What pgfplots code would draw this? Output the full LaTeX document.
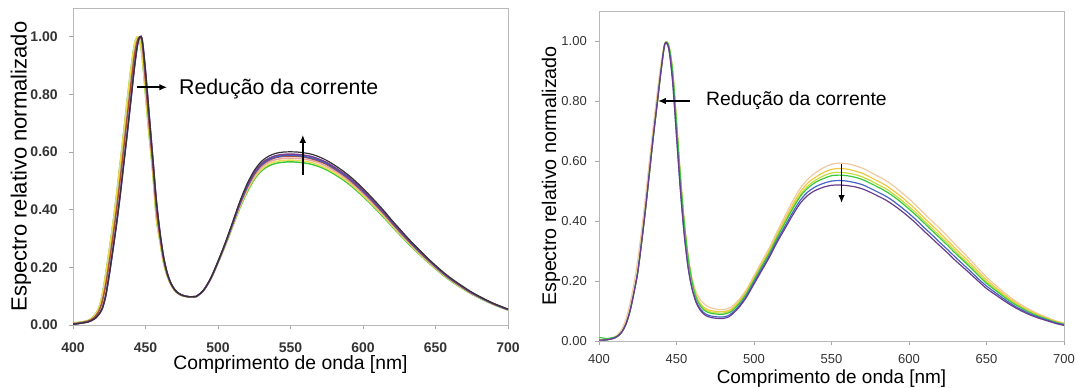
\documentclass[border=0pt]{standalone}
\usepackage{pgfplots}
\pgfplotsset{compat=1.18}
\usepackage{pgfplotstable}
\usepackage{fontspec}
\setmainfont{Liberation Sans}
\usetikzlibrary{arrows.meta}

\definecolor{cK}{HTML}{333333}
\definecolor{cU}{HTML}{7B3F8F}
\definecolor{cB}{HTML}{4060C0}
\definecolor{cR}{HTML}{B0503C}
\definecolor{cP}{HTML}{E8A8A0}
\definecolor{cY}{HTML}{E8DC50}
\definecolor{cG}{HTML}{3CC83C}
\definecolor{rP}{HTML}{F2C8A0}
\definecolor{rY}{HTML}{F0C840}
\definecolor{rL}{HTML}{C8DC3C}
\definecolor{rG}{HTML}{3CC83C}
\definecolor{rB}{HTML}{4664C8}
\definecolor{rU}{HTML}{6A3C8C}

\pgfplotstableread{
x k u b r p y g
400 .003 .003 .003 .006 .006 .008 .008
402.5 .004 .004 .004 .006 .006 .008 .008
405 .006 .006 .006 .008 .008 .010 .010
407.5 .008 .008 .008 .010 .010 .012 .012
410 .010 .010 .010 .013 .013 .015 .015
412.5 .015 .015 .015 .018 .018 .022 .022
415 .022 .022 .022 .028 .028 .035 .035
417.5 .035 .035 .035 .045 .045 .055 .055
420 .055 .055 .055 .078 .078 .100 .100
422.5 .100 .100 .100 .138 .138 .175 .175
425 .175 .175 .175 .218 .218 .260 .260
427.5 .260 .260 .260 .305 .305 .350 .350
430 .350 .350 .350 .400 .400 .450 .450
432.5 .450 .450 .450 .505 .505 .560 .560
435 .560 .560 .560 .615 .615 .670 .670
437.5 .670 .670 .670 .728 .728 .785 .785
440 .785 .785 .785 .838 .838 .890 .890
442.5 .900 .900 .900 .940 .940 .975 .975
445 .985 .985 .985 .995 .995 1.000 1.000
447.5 .995 .995 .995 .985 .985 .940 .940
450 .880 .880 .880 .845 .845 .800 .800
452.5 .730 .730 .730 .695 .695 .660 .660
455 .580 .580 .580 .555 .555 .530 .530
457.5 .430 .430 .430 .400 .400 .370 .370
460 .320 .320 .320 .305 .305 .290 .290
462.5 .235 .235 .235 .225 .225 .215 .215
465 .180 .180 .180 .175 .175 .170 .170
467.5 .145 .145 .145 .143 .143 .140 .140
470 .124 .124 .124 .122 .122 .120 .120
472.5 .111 .111 .111 .110 .110 .109 .109
475 .104 .104 .104 .103 .103 .102 .102
477.5 .100 .100 .100 .100 .100 .099 .099
480 .098 .098 .098 .098 .098 .097 .097
482.5 .098 .098 .098 .098 .098 .097 .097
485 .099 .099 .099 .099 .099 .099 .099
490 .121 .120 .120 .120 .120 .120 .120
495 .163 .162 .161 .161 .160 .160 .160
500 .221 .220 .219 .218 .217 .216 .215
505 .285 .283 .282 .281 .279 .277 .275
510 .356 .352 .350 .349 .346 .343 .340
515 .428 .423 .420 .418 .413 .409 .405
520 .489 .482 .478 .476 .471 .465 .460
525 .536 .529 .525 .523 .517 .510 .505
530 .568 .561 .556 .554 .547 .540 .535
535 .586 .578 .574 .571 .565 .558 .552
540 .596 .588 .583 .581 .574 .567 .561
545 .600 .592 .588 .585 .578 .571 .565
550 .601 .593 .589 .586 .579 .572 .566
555 .600 .592 .588 .585 .578 .571 .565
560 .597 .589 .584 .582 .575 .568 .562
565 .592 .584 .579 .576 .570 .563 .557
570 .583 .575 .571 .568 .562 .554 .549
575 .571 .564 .560 .557 .550 .543 .538
580 .556 .549 .545 .542 .536 .529 .524
585 .539 .532 .528 .526 .520 .513 .508
590 .520 .514 .510 .507 .501 .495 .490
595 .498 .492 .488 .485 .480 .474 .469
600 .474 .467 .464 .462 .456 .450 .446
605 .448 .442 .439 .437 .432 .426 .422
610 .421 .415 .412 .410 .405 .400 .396
615 .393 .388 .385 .383 .379 .374 .370
620 .363 .358 .356 .354 .350 .345 .342
625 .335 .330 .328 .326 .322 .318 .315
630 .307 .303 .301 .299 .296 .292 .289
635 .280 .277 .275 .273 .270 .267 .264
640 .255 .252 .250 .248 .246 .242 .240
645 .230 .227 .226 .225 .222 .219 .217
650 .207 .204 .203 .202 .199 .197 .195
655 .185 .182 .181 .180 .178 .176 .174
660 .165 .162 .161 .160 .159 .157 .155
665 .147 .145 .144 .143 .141 .139 .138
670 .130 .128 .127 .126 .125 .123 .122
675 .114 .112 .111 .111 .109 .108 .107
680 .100 .099 .098 .097 .096 .095 .094
685 .087 .086 .085 .085 .084 .083 .082
690 .075 .074 .074 .073 .073 .072 .071
695 .065 .064 .063 .063 .062 .062 .061
700 .055 .054 .054 .054 .053 .053 .052
}\leftdata

\pgfplotstableread{
x P Y L G B U
400 .005 .003 .003 .012 .003 .003
402.5 .005 .003 .003 .010 .003 .003
405 .006 .004 .004 .008 .004 .004
407.5 .008 .006 .006 .010 .006 .006
410 .013 .010 .010 .013 .010 .010
412.5 .024 .018 .018 .018 .018 .018
415 .042 .032 .032 .032 .032 .032
417.5 .075 .058 .058 .058 .058 .058
420 .125 .100 .100 .100 .100 .100
422.5 .190 .160 .160 .160 .160 .160
425 .270 .230 .230 .230 .230 .230
427.5 .370 .330 .330 .330 .330 .330
430 .480 .440 .440 .440 .440 .440
432.5 .600 .560 .560 .560 .560 .560
435 .715 .680 .680 .680 .680 .680
437.5 .825 .790 .790 .790 .790 .790
440 .925 .900 .900 .900 .900 .900
442.5 .995 .990 .990 .990 .990 .990
445 .980 .985 .985 .985 .975 .975
447.5 .885 .900 .900 .900 .865 .865
450 .710 .730 .730 .730 .685 .685
452.5 .535 .550 .550 .550 .505 .505
455 .390 .395 .395 .395 .355 .355
457.5 .280 .280 .280 .280 .245 .245
460 .210 .200 .200 .200 .175 .175
462.5 .165 .155 .150 .147 .135 .130
465 .140 .128 .124 .120 .110 .105
467.5 .125 .113 .108 .104 .095 .090
470 .116 .105 .100 .096 .087 .082
472.5 .110 .101 .096 .092 .083 .078
475 .107 .099 .094 .090 .081 .076
477.5 .105 .098 .093 .089 .080 .075
480 .105 .098 .093 .089 .080 .075
482.5 .107 .100 .096 .092 .083 .078
485 .112 .105 .101 .097 .090 .085
490 .136 .130 .125 .122 .115 .110
495 .171 .165 .160 .157 .150 .145
500 .218 .211 .206 .203 .196 .190
505 .265 .258 .252 .249 .241 .235
510 .312 .304 .299 .294 .286 .280
515 .366 .357 .351 .346 .337 .330
520 .417 .407 .399 .394 .383 .375
525 .467 .455 .447 .441 .429 .420
530 .510 .498 .489 .483 .470 .460
535 .541 .528 .518 .511 .498 .487
540 .562 .547 .537 .530 .515 .503
545 .578 .562 .551 .542 .526 .513
550 .589 .572 .560 .551 .533 .519
555 .593 .575 .562 .553 .535 .520
560 .591 .573 .560 .551 .533 .518
565 .585 .567 .555 .546 .528 .514
570 .576 .559 .547 .538 .521 .507
575 .563 .546 .535 .526 .509 .496
580 .549 .533 .521 .513 .496 .483
585 .535 .519 .508 .499 .483 .470
590 .517 .501 .490 .482 .466 .453
595 .496 .481 .470 .462 .446 .434
600 .474 .459 .448 .440 .425 .413
605 .450 .435 .425 .417 .402 .390
610 .424 .409 .399 .392 .377 .365
615 .399 .385 .375 .367 .353 .341
620 .374 .360 .350 .343 .328 .317
625 .348 .334 .325 .318 .304 .293
630 .321 .308 .299 .292 .279 .268
635 .295 .283 .274 .268 .255 .245
640 .268 .257 .249 .243 .231 .222
645 .240 .230 .222 .217 .206 .198
650 .213 .204 .197 .192 .183 .175
655 .190 .182 .176 .172 .164 .157
660 .168 .161 .156 .152 .145 .139
665 .147 .141 .137 .133 .127 .122
670 .129 .124 .120 .117 .111 .107
675 .113 .108 .105 .103 .098 .094
680 .099 .095 .092 .090 .086 .083
685 .087 .084 .082 .080 .077 .074
690 .077 .074 .072 .071 .068 .066
695 .067 .065 .063 .062 .060 .058
700 .060 .058 .057 .056 .054 .052
}\rightdata

\pgfplotsset{
  specax/.style={
    anchor=south west, scale only axis,
    xmin=400, xmax=700, ymin=0, ymax=1.1,
    xtick={400,450,500,550,600,650,700},
    ytick={0,0.2,0.4,0.6,0.8,1.0},
    scaled y ticks=false,
    /pgf/number format/assume math mode=true,
    yticklabel style={/pgf/number format/fixed,/pgf/number format/fixed zerofill,/pgf/number format/precision=2,anchor=east,inner sep=0pt},
    xticklabel style={anchor=center,inner sep=0pt},
    axis line style={draw=gray!55},
    tick style={draw=gray!70, line width=0.6pt},
    major tick length=3pt,
    tick align=outside,
    xtick pos=bottom, ytick pos=left,
    ylabel={Espectro relativo normalizado},
    xlabel={Comprimento de onda [nm]},
    ylabel style={anchor=center, rotate=0},
    xlabel style={anchor=center},
    every axis plot/.append style={smooth, no marks},
  }
}

\begin{document}
\begin{tikzpicture}[x=1pt,y=1pt]
\useasboundingbox (0,0) rectangle (808.5,290.25);

\begin{axis}[specax,
  at={(54.75pt,46.5pt)}, width=326.25pt, height=237.75pt,
  tick label style={font=\fontsize{10.5}{12}\selectfont\bfseries, text=black!80},
  yticklabel style={xshift=-8.25pt},
  xticklabel style={yshift=-14pt},
  ylabel style={at={(axis description cs:-0.1196,0.5)}, font=\fontsize{16.5}{19}\selectfont},
  xlabel style={at={(axis description cs:0.5,-0.125)}, font=\fontsize{14.5}{17}\selectfont},
  every axis plot/.append style={line width=1.1pt},
]
\addplot[cG] table[x=x,y=g] {\leftdata};
\addplot[cY] table[x=x,y=y] {\leftdata};
\addplot[cP] table[x=x,y=p] {\leftdata};
\addplot[cR] table[x=x,y=r] {\leftdata};
\addplot[cB] table[x=x,y=b] {\leftdata};
\addplot[cU] table[x=x,y=u] {\leftdata};
\addplot[cK, line width=0.9pt] table[x=x,y=k] {\leftdata};
\draw[-{Latex[length=6pt,width=5pt]}, line width=1.3pt] (axis cs:444,0.825) -- (axis cs:465,0.825);
\draw[-{Latex[length=6pt,width=5pt]}, line width=1.3pt] (axis cs:558.5,0.52) -- (axis cs:558.5,0.66);
\node[anchor=west, font=\fontsize{16}{19}\selectfont, inner sep=0pt] at (axis cs:473,0.82) {Redução da corrente};
\end{axis}

\begin{axis}[specax,
  at={(449.25pt,34.5pt)}, width=348.75pt, height=247.5pt,
  tick label style={font=\fontsize{9.75}{11}\selectfont, text=black!80},
  yticklabel style={xshift=-6pt},
  xticklabel style={yshift=-10.5pt},
  ylabel style={at={(axis description cs:-0.1032,0.5)}, font=\fontsize{14.8}{17}\selectfont},
  xlabel style={at={(axis description cs:0.5,-0.113)}, font=\fontsize{14.2}{17}\selectfont},
  every axis plot/.append style={line width=0.9pt},
]
\addplot[rP] table[x=x,y=P] {\rightdata};
\addplot[rY] table[x=x,y=Y] {\rightdata};
\addplot[rL] table[x=x,y=L] {\rightdata};
\addplot[rG] table[x=x,y=G] {\rightdata};
\addplot[rB] table[x=x,y=B] {\rightdata};
\addplot[rU] table[x=x,y=U] {\rightdata};
\draw[-{Latex[length=6pt,width=5pt]}, line width=1.2pt] (axis cs:458.5,0.80) -- (axis cs:438,0.80);
\draw[-{Latex[length=6pt,width=5pt]}, line width=1.2pt] (axis cs:556.5,0.59) -- (axis cs:556.5,0.46);
\node[anchor=west, font=\fontsize{14.5}{17}\selectfont, inner sep=0pt] at (axis cs:469,0.80) {Redução da corrente};
\end{axis}
\end{tikzpicture}
\end{document}
